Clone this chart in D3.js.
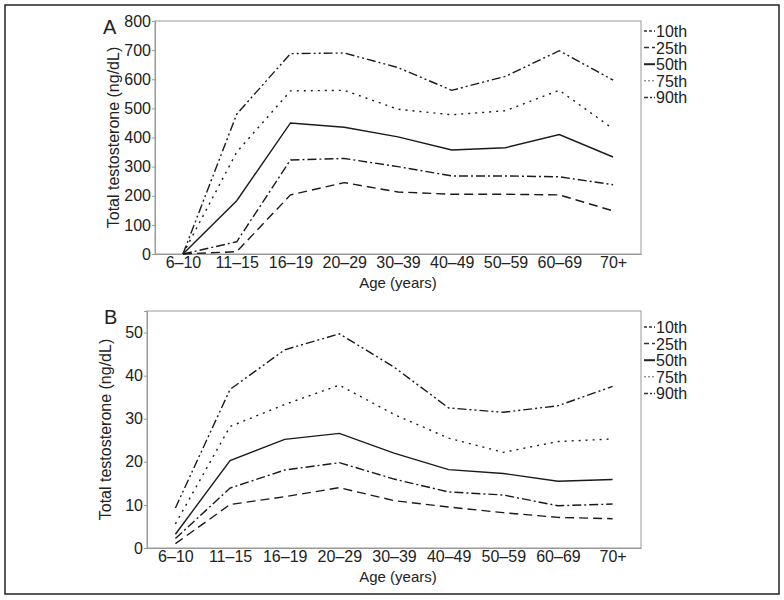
<!DOCTYPE html>
<html><head><meta charset="utf-8">
<script src="https://cdn.jsdelivr.net/npm/d3@7"></script>
<style>body{margin:0;background:#fff}svg{display:block}text{font-family:"Liberation Sans",Arial,sans-serif;fill:#222}</style>
</head><body>
<script>
const categories = ["6–10","11–15","16–19","20–29","30–39","40–49","50–59","60–69","70+"];
const percentiles = ["10th","25th","50th","75th","90th"];
// Panel A (males)
const a_p10 = [0, 8, 203, 245, 213, 205, 205, 203, 148];
const a_p25 = [0, 42, 323, 328, 300, 268, 268, 265, 238];
const a_p50 = [0, 183, 450, 435, 402, 357, 365, 410, 333];
const a_p75 = [0, 350, 560, 562, 497, 478, 492, 562, 430];
const a_p90 = [0, 480, 688, 690, 640, 562, 610, 698, 597];
const a_ticks = [0,100,200,300,400,500,600,700,800];
// Panel B (females)
const b_p10 = [1.0, 10.1, 11.9, 14.0, 11.0, 9.5, 8.2, 7.1, 6.8];
const b_p25 = [2.2, 13.9, 18.1, 19.8, 16.0, 13.0, 12.3, 9.8, 10.2];
const b_p50 = [3.2, 20.3, 25.2, 26.6, 22.0, 18.2, 17.3, 15.5, 15.9];
const b_p75 = [5.6, 28.2, 33.3, 37.8, 31.0, 25.5, 22.2, 24.7, 25.3];
const b_p90 = [9.3, 36.8, 46.0, 49.7, 42.0, 32.5, 31.5, 33.0, 37.5];
const b_ticks = [0,10,20,30,40,50];

const lineDash = {"10th":"9,5","25th":"9,3,2,3","50th":null,"75th":"2,5","90th":"9,3,2,3,2,3"};
const legendDash = {"10th":"3,2","25th":"5,3","50th":null,"75th":"2,2","90th":"4,2,2,2"};
const legendColor = {"10th":"#333","25th":"#333","50th":"#222","75th":"#999","90th":"#333"};

const svg = d3.select("body").append("svg").attr("width",784).attr("height",600);
svg.append("rect").attr("x",5).attr("y",5).attr("width",774).attr("height",589)
  .attr("fill","none").attr("stroke","#222").attr("stroke-width",1.5);

function panel(cfg){
  const {left,right,top,bottom,ymax,ticks,series,letter,legendY} = cfg;
  const g = svg.append("g");
  const x = d3.scalePoint().domain(categories).range([left,right]).padding(0.52);
  const y = d3.scaleLinear().domain([0,ymax]).range([bottom,top]);
  g.append("rect").attr("x",left).attr("y",top).attr("width",right-left).attr("height",bottom-top)
    .attr("fill","none").attr("stroke","#999").attr("stroke-width",1);
  const ya = g.append("g").attr("transform",`translate(${left},0)`)
    .call(d3.axisLeft(y).tickValues(ticks).tickSize(3).tickPadding(1));
  ya.select(".domain").attr("stroke","#999");
  ya.selectAll(".tick line").attr("stroke","#999");
  ya.selectAll("text").style("font-size","16px").attr("fill","#222");
  const xa = g.append("g").attr("transform",`translate(0,${bottom})`)
    .call(d3.axisBottom(x).tickSize(0).tickPadding(3));
  xa.select(".domain").attr("stroke","#999");
  xa.selectAll("text").style("font-size","16px").attr("fill","#222");
  g.append("text").attr("x",398).attr("y",bottom+34).attr("text-anchor","middle")
    .style("font-size","15px").text("Age (years)");
  g.append("text").attr("transform",`translate(${left-36},${(top+bottom)/2}) rotate(-90)`)
    .attr("text-anchor","middle").style("font-size","16px").text("Total testosterone (ng/dL)");
  g.append("text").attr("x",cfg.letterX).attr("y",top+13).style("font-size","20px").text(letter);
  const line = d3.line().x((d,i)=>x(categories[i])).y(d=>y(d));
  percentiles.forEach((p,k)=>{
    g.append("path").datum(series[k]).attr("d",line).attr("fill","none")
      .attr("stroke","#1a1a1a").attr("stroke-width",1.4)
      .attr("stroke-dasharray",lineDash[p]);
  });
  percentiles.forEach((p,k)=>{
    const yy = legendY + k*16.6;
    g.append("line").attr("x1",right+3).attr("x2",right+14).attr("y1",yy).attr("y2",yy)
      .attr("stroke",legendColor[p]).attr("stroke-width",p==="50th"?2:1.5).attr("stroke-dasharray",legendDash[p]);
    g.append("text").attr("x",right+15).attr("y",yy+6).style("font-size","16px").text(p);
  });
}
panel({left:155,right:641,top:21,bottom:254,ymax:800,ticks:a_ticks,
  series:[a_p10,a_p25,a_p50,a_p75,a_p90],letter:"A",letterX:103,legendY:31});
panel({left:147,right:641,top:311,bottom:548,ymax:55,ticks:b_ticks,
  series:[b_p10,b_p25,b_p50,b_p75,b_p90],letter:"B",letterX:104,legendY:327});
</script>
</body></html>
